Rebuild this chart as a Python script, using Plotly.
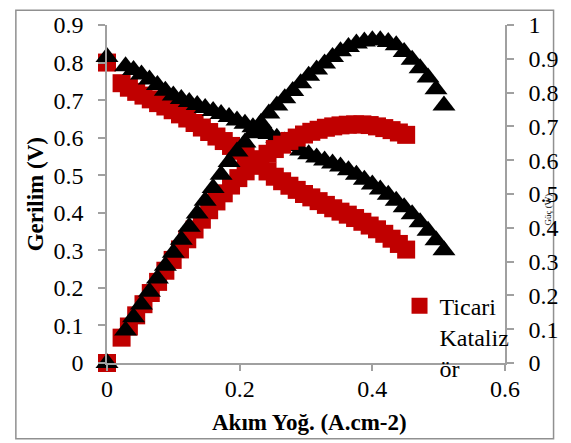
import plotly.graph_objects as go

# Black triangles series
black_x = [0, 0.028, 0.040, 0.052, 0.064, 0.076, 0.088, 0.100, 0.112, 0.124, 0.136,
           0.148, 0.160, 0.172, 0.184, 0.196, 0.208, 0.220, 0.232, 0.244, 0.256,
           0.268, 0.280, 0.292, 0.304, 0.316, 0.328, 0.340, 0.352, 0.364, 0.376,
           0.388, 0.400, 0.412, 0.424, 0.436, 0.448, 0.460, 0.472, 0.484, 0.496, 0.508]
black_v = [0.815, 0.790, 0.780, 0.768, 0.755, 0.740, 0.725, 0.712, 0.703, 0.695, 0.687,
           0.679, 0.671, 0.663, 0.655, 0.646, 0.637, 0.628, 0.619, 0.610, 0.600,
           0.590, 0.578, 0.566, 0.556, 0.547, 0.539, 0.531, 0.523, 0.513, 0.501,
           0.488, 0.475, 0.462, 0.448, 0.432, 0.415, 0.396, 0.375, 0.352, 0.327, 0.300]
black_p = [0, 0.096, 0.135, 0.173, 0.211, 0.250, 0.288, 0.326, 0.365, 0.403, 0.442,
           0.480, 0.518, 0.557, 0.595, 0.626, 0.652, 0.680, 0.710, 0.738, 0.762,
           0.783, 0.805, 0.828, 0.850, 0.868, 0.886, 0.905, 0.922, 0.935, 0.945,
           0.951, 0.955, 0.955, 0.950, 0.940, 0.920, 0.897, 0.872, 0.845, 0.810, 0.762]

# Red squares series (Ticari Katalizör)
red_x = [0, 0.022, 0.033, 0.044, 0.055, 0.066, 0.077, 0.088, 0.099, 0.110, 0.121,
         0.132, 0.143, 0.154, 0.165, 0.176, 0.187, 0.198, 0.209, 0.220, 0.231,
         0.242, 0.253, 0.264, 0.275, 0.286, 0.297, 0.308, 0.319, 0.330, 0.341,
         0.352, 0.363, 0.374, 0.385, 0.396, 0.407, 0.418, 0.429, 0.440, 0.451]
red_v = [0.80, 0.745, 0.733, 0.722, 0.712, 0.702, 0.692, 0.683, 0.673, 0.662, 0.651,
         0.639, 0.627, 0.615, 0.603, 0.591, 0.578, 0.565, 0.553, 0.540, 0.525,
         0.510, 0.496, 0.484, 0.472, 0.461, 0.450, 0.441, 0.431, 0.421, 0.412,
         0.403, 0.395, 0.386, 0.376, 0.366, 0.356, 0.344, 0.331, 0.317, 0.302]
red_p = [0, 0.075, 0.108, 0.141, 0.174, 0.207, 0.240, 0.273, 0.305, 0.336, 0.366,
         0.395, 0.424, 0.452, 0.478, 0.502, 0.525, 0.547, 0.567, 0.586, 0.603,
         0.619, 0.633, 0.646, 0.657, 0.667, 0.676, 0.684, 0.690, 0.696, 0.700,
         0.703, 0.705, 0.706, 0.706, 0.704, 0.700, 0.695, 0.689, 0.682, 0.675]

legend_label = "Ticari<br>Kataliz<br>ör"
x_title = "Akım Yoğ. (A.cm-2)"
y_title = "Gerilim (V)"
y2_title = "Güç (W)"

RED = "#C00000"
BLACK = "#000000"
FONT = "Liberation Serif"
AXIS = "#a0a0a0"

fig = go.Figure()
fig.add_trace(go.Scatter(x=red_x, y=red_v, mode="markers", name=legend_label,
                         marker=dict(symbol="square", size=18, color=RED, line=dict(width=0)),
                         cliponaxis=False, showlegend=True))
fig.add_trace(go.Scatter(x=red_x, y=red_p, mode="markers", yaxis="y2", showlegend=False,
                         marker=dict(symbol="square", size=18, color=RED, line=dict(width=0)),
                         cliponaxis=False))
fig.add_trace(go.Scatter(x=black_x, y=black_v, mode="markers", showlegend=False,
                         marker=dict(symbol="triangle-up", size=20, color=BLACK, line=dict(width=0)),
                         cliponaxis=False))
fig.add_trace(go.Scatter(x=black_x, y=black_p, mode="markers", yaxis="y2", showlegend=False,
                         marker=dict(symbol="triangle-up", size=20, color=BLACK, line=dict(width=0)),
                         cliponaxis=False))

tickfont = dict(family=FONT, size=24, color="black")
fig.update_layout(
    width=571, height=443,
    margin=dict(l=107, r=54, t=19, b=80),
    paper_bgcolor="white", plot_bgcolor="white",
    font=dict(family=FONT, color="black"),
    showlegend=True,
    legend=dict(x=0.735, y=0.235, xanchor="left", yanchor="top", valign="top",
                font=dict(family=FONT, size=24, color="black"),
                bgcolor="rgba(0,0,0,0)", itemwidth=30, tracegroupgap=0),
    xaxis=dict(range=[0, 0.6], dtick=0.2, tick0=0, showgrid=False, zeroline=False,
               showline=True, linecolor=AXIS, linewidth=1.5, ticks="outside",
               ticklen=6, tickcolor=AXIS, tickwidth=1.5, tickfont=tickfont,
               ticklabelstandoff=-3),
    yaxis=dict(range=[0, 0.9], dtick=0.1, tick0=0, showgrid=False, zeroline=False,
               showline=True, linecolor=AXIS, linewidth=1.5, ticks="outside",
               ticklen=7, tickcolor=AXIS, tickwidth=1.5, tickfont=tickfont,
               ticklabelstandoff=10),
    yaxis2=dict(range=[0, 1], dtick=0.1, tick0=0, overlaying="y", side="right",
                showgrid=False, zeroline=False, showline=True, linecolor=AXIS,
                linewidth=1.5, ticks="outside", ticklen=7, tickcolor=AXIS, tickwidth=1.5,
                tickfont=tickfont, ticklabelstandoff=10),
    annotations=[
        dict(text="<b>" + x_title + "</b>", xref="paper", yref="paper", x=0.51, y=-0.177,
             xanchor="center", yanchor="middle", showarrow=False,
             font=dict(family=FONT, size=23, color="black")),
        dict(text="<b>" + y_title + "</b>", xref="paper", yref="paper", x=-0.18, y=0.5,
             xanchor="center", yanchor="middle", textangle=-90, showarrow=False,
             font=dict(family=FONT, size=23, color="black")),
        dict(text=y2_title, xref="paper", yref="paper", x=1.107, y=0.453,
             xanchor="center", yanchor="middle", textangle=-90, showarrow=False,
             font=dict(family=FONT, size=9, color="black")),
    ],
    shapes=[dict(type="rect", xref="paper", yref="paper", x0=-0.229, x1=1.122,
                 y0=-0.224, y1=1.0436, line=dict(color="#909090", width=1.5),
                 fillcolor="rgba(0,0,0,0)", layer="below")],
)

fig.write_html("out.html")
